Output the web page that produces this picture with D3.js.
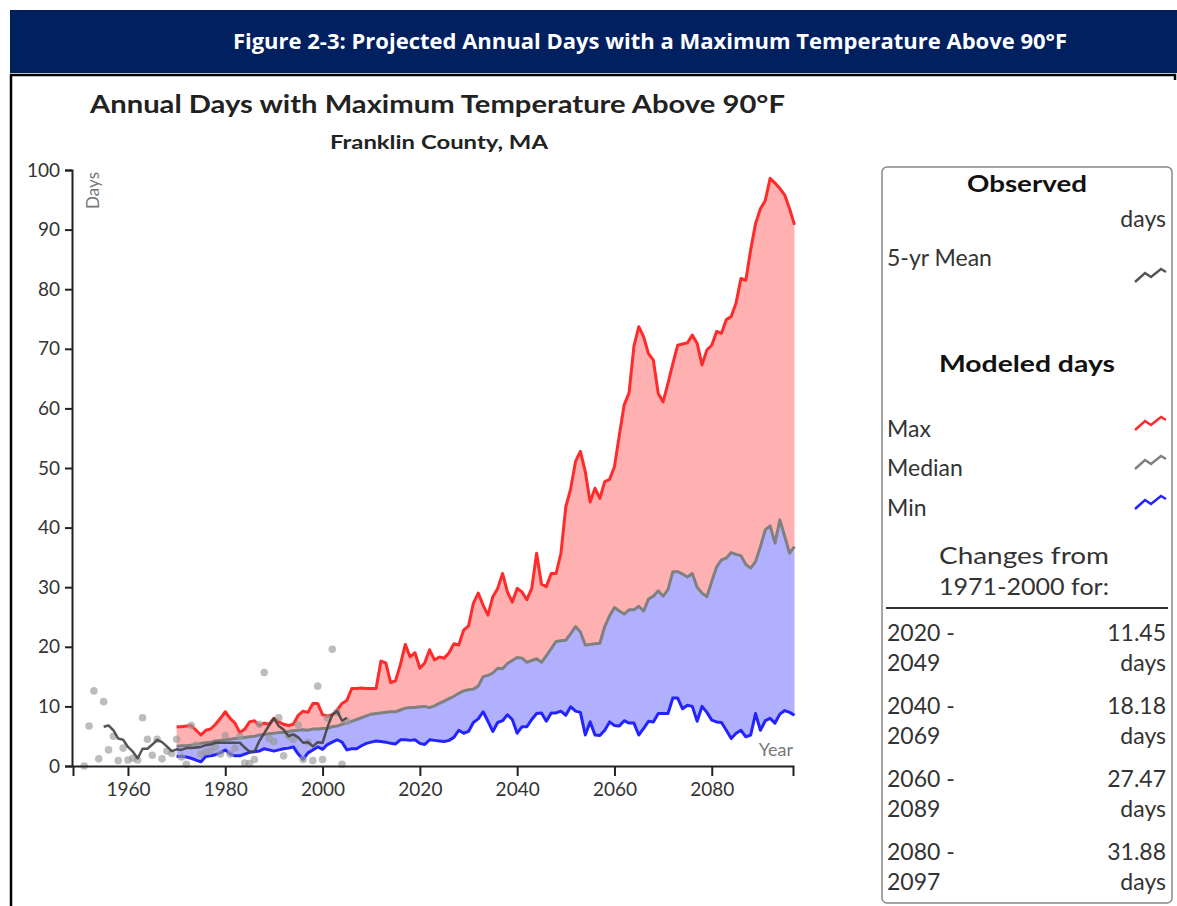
<!DOCTYPE html>
<html>
<head>
<meta charset="utf-8">
<script src="https://cdn.jsdelivr.net/npm/d3@7"></script>
<style>
  body { margin: 0; background: #fff; }
  text { font-family: "Lato", "Open Sans", sans-serif; }
</style>
</head>
<body>
<div id="chart"></div>
<script>
"use strict";

// observed annual days (dots) and the 5-yr running mean
var obsYears = d3.range(1951, 2006);
var obsDays = [0, 6.7, 12.6, 1.2, 10.8, 2.7, 5.0, 0.9, 3.0, 1.0,
  1.3, 1.0, 8.1, 4.5, 1.8, 4.5, 1.2, 2.5, 2.1, 4.5,
  1.5, 0.3, 6.8, 3.5, 2.0, 2.4, 2.6, 3.2, 2.0, 5.1,
  2.0, 3.0, 5.0, 0.5, 0.4, 1.1, 7.0, 15.7, 4.6, 4.1,
  8.1, 1.7, 5.0, 4.5, 6.9, 1.1, 4.0, 0.9, 13.4, 1.1,
  8.0, 19.6, 9.0, 0.3, 7.5];

var meanYears = d3.range(1955, 2006);
var meanDays = [6.6, 6.8, 6.0, 4.6, 4.4, 3.2, 2.4, 1.3, 2.9, 2.9,
  3.6, 4.4, 4.0, 3.3, 2.5, 2.8, 2.7, 3.0, 3.0, 3.1,
  3.2, 3.5, 3.6, 3.9, 3.9, 3.9, 3.9, 3.9, 3.9, 3.1,
  2.4, 2.4, 4.2, 5.5, 6.8, 8.0, 6.7, 6.1, 5.0, 5.3,
  4.8, 3.9, 4.0, 3.3, 4.0, 3.9, 6.5, 8.6, 9.2, 7.6, 8.1];

// modeled, 1970-2097
var modelYears = d3.range(1970, 2098);
var maxDays = [6.6, 6.6, 6.7, 6.8, 6.0, 5.2, 6.0, 6.2, 7.0, 8.0,
  9.1, 8.0, 7.2, 5.6, 6.2, 7.4, 7.6, 6.8, 7.2, 7.0,
  8.0, 7.4, 7.0, 6.8, 7.0, 8.5, 9.2, 9.0, 10.5, 10.5,
  8.6, 8.4, 8.6, 9.4, 10.5, 11.0, 13.0, 13.0, 13.1, 13.0,
  13.0, 13.0, 17.6, 17.3, 14.0, 14.3, 17.0, 20.4, 18.3, 19.0,
  16.4, 17.3, 19.5, 17.8, 18.3, 18.1, 19.0, 20.5, 20.3, 22.8,
  23.5, 27.3, 29.0, 27.0, 25.3, 28.4, 29.8, 32.3, 29.2, 27.5,
  29.8, 29.2, 27.9, 29.8, 35.7, 30.5, 30.1, 32.3, 32.3, 35.7,
  43.5, 46.5, 51.1, 52.8, 49.4, 44.3, 46.6, 44.9, 47.7, 48.1,
  50.2, 55.5, 60.6, 62.6, 70.4, 73.7, 72.0, 69.2, 68.1, 62.5,
  61.1, 64.2, 67.5, 70.6, 70.8, 71.0, 72.3, 70.9, 67.3, 69.8,
  70.6, 72.9, 72.6, 74.9, 75.4, 77.7, 81.8, 81.5, 86.6, 91.0,
  93.5, 94.9, 98.6, 97.8, 96.9, 95.8, 93.5, 90.8];
var medianDays = [3.3, 3.4, 3.4, 3.5, 3.6, 3.8, 3.9, 4.0, 4.2, 4.3,
  4.4, 4.5, 4.6, 4.7, 4.8, 4.9, 5.0, 5.2, 5.3, 5.4,
  5.5, 5.6, 5.6, 5.8, 5.9, 6.0, 6.1, 6.0, 6.2, 6.2,
  6.3, 6.3, 6.6, 6.7, 7.0, 7.2, 7.5, 7.8, 8.1, 8.4,
  8.7, 8.8, 8.9, 9.0, 9.1, 9.1, 9.4, 9.7, 9.8, 9.8,
  9.95, 10.0, 9.8, 10.1, 10.5, 10.9, 11.3, 11.7, 12.2, 12.6,
  12.8, 12.9, 13.4, 15.0, 15.2, 15.6, 16.4, 16.3, 17.2, 17.7,
  18.2, 18.1, 17.4, 17.7, 18.0, 17.4, 18.5, 19.7, 20.9, 21.0,
  21.1, 22.2, 23.4, 22.5, 20.3, 20.4, 20.5, 20.6, 23.4, 25.2,
  26.6, 26.0, 25.5, 26.2, 26.2, 26.8, 26.0, 28.0, 28.5, 29.4,
  28.5, 29.6, 32.6, 32.6, 32.2, 31.7, 32.3, 30.0, 29.0, 28.4,
  31.0, 33.4, 34.6, 34.9, 35.8, 35.5, 35.3, 33.8, 33.2, 34.3,
  36.8, 39.6, 40.3, 37.4, 41.3, 38.5, 35.7, 36.8];
var minDays = [1.6, 1.6, 1.5, 1.3, 1.0, 0.7, 1.6, 1.7, 1.9, 2.2,
  2.7, 2.0, 1.7, 1.7, 2.0, 2.3, 2.4, 2.5, 2.9, 2.7,
  2.5, 2.7, 2.9, 3.0, 3.2, 2.0, 1.1, 2.2, 2.7, 3.2,
  2.8, 3.6, 4.0, 4.4, 4.0, 2.7, 2.9, 2.9, 3.4, 3.8,
  4.0, 4.2, 4.1, 4.0, 3.8, 3.7, 4.4, 4.4, 4.3, 4.4,
  3.8, 3.6, 4.4, 4.3, 4.2, 4.1, 4.3, 4.8, 6.0, 5.5,
  5.8, 7.3, 7.9, 9.1, 7.5, 5.8, 7.3, 7.6, 8.6, 7.8,
  5.5, 6.6, 6.6, 7.8, 8.8, 8.9, 7.5, 8.9, 8.9, 9.2,
  8.5, 9.95, 9.2, 9.0, 5.2, 7.4, 5.2, 5.1, 6.0, 7.4,
  6.8, 6.7, 7.6, 7.2, 7.2, 5.2, 6.3, 7.5, 7.4, 8.8,
  8.8, 8.8, 11.4, 11.4, 9.6, 10.2, 10.0, 7.5, 10.0, 9.0,
  7.7, 7.4, 7.3, 6.0, 4.6, 5.5, 6.0, 4.9, 5.2, 8.8,
  6.0, 7.6, 8.0, 7.2, 8.7, 9.3, 9.0, 8.5];

var yTicks = [0, 10, 20, 30, 40, 50, 60, 70, 80, 90, 100];
var xTicks = [1960, 1980, 2000, 2020, 2040, 2060, 2080];

var changePeriods = [["2020 -", "2049"], ["2040 -", "2069"], ["2060 -", "2089"], ["2080 -", "2097"]];
var changeValues = ["11.45", "18.18", "27.47", "31.88"];

var W = 1177, H = 906;
var svg = d3.select("#chart").append("svg")
  .attr("width", W).attr("height", H);

// header band
svg.append("rect").attr("x", 10).attr("y", 10).attr("width", W - 10).attr("height", 63)
  .attr("fill", "#002060");
svg.append("text").attr("x", 650).attr("y", 49)
  .attr("text-anchor", "middle").attr("fill", "#fff")
  .style("font-family", "'Open Sans', sans-serif")
  .style("font-weight", "bold").style("font-size", "22px")
  .text("Figure 2-3: Projected Annual Days with a Maximum Temperature Above 90\u00B0F");

// frame under header
svg.append("path").attr("d", "M11,906 V75 H1175 V80")
  .attr("fill", "none").attr("stroke", "#000").attr("stroke-width", 2.5);

// chart titles
svg.append("text").attr("x", 90).attr("y", 113)
  .attr("textLength", 695).attr("lengthAdjust", "spacingAndGlyphs")
  .style("font-weight", "bold").style("font-size", "24px").attr("fill", "#222")
  .text("Annual Days with Maximum Temperature Above 90\u00B0F");
svg.append("text").attr("x", 330).attr("y", 149)
  .attr("textLength", 218).attr("lengthAdjust", "spacingAndGlyphs")
  .style("font-weight", "bold").style("font-size", "19px").attr("fill", "#222")
  .text("Franklin County, MA");

// scales
var x = d3.scaleLinear().domain([1948.7, 2096.7]).range([73, 793]);
var y = d3.scaleLinear().domain([0, 100]).range([766, 170]);

var g = svg.append("g");

var modeled = modelYears.map(function (yr, i) {
  return { year: yr, max: maxDays[i], med: medianDays[i], min: minDays[i] };
});

// fills
g.append("path").datum(modeled)
  .attr("fill", "#ffb0b0")
  .attr("d", d3.area().x(function (d) { return x(d.year); })
    .y0(function (d) { return y(d.med); }).y1(function (d) { return y(d.max); }));
g.append("path").datum(modeled)
  .attr("fill", "#b0b0ff")
  .attr("d", d3.area().x(function (d) { return x(d.year); })
    .y0(function (d) { return y(d.min); }).y1(function (d) { return y(d.med); }));

// modeled lines
var lines = [["max", "#ff2b2b"], ["med", "#808080"], ["min", "#2323ff"]];
lines.forEach(function (l) {
  g.append("path").datum(modeled)
    .attr("fill", "none").attr("stroke", l[1]).attr("stroke-width", 3)
    .attr("stroke-linejoin", "round")
    .attr("d", d3.line().x(function (d) { return x(d.year); })
      .y(function (d) { return y(d[l[0]]); }));
});

// observed dots
g.selectAll("circle.obs").data(obsYears).enter().append("circle")
  .attr("class", "obs")
  .attr("cx", function (d) { return x(d); })
  .attr("cy", function (d, i) { return y(obsDays[i]); })
  .attr("r", 3.8)
  .attr("fill", "#999").attr("fill-opacity", 0.65);

// 5-yr mean
g.append("path").datum(meanYears)
  .attr("fill", "none").attr("stroke", "#444").attr("stroke-opacity", 0.9)
  .attr("stroke-width", 2.5).attr("stroke-linejoin", "round")
  .attr("d", d3.line().x(function (d) { return x(d); })
    .y(function (d, i) { return y(meanDays[i]); }));

// axes
var yAxis = svg.append("g").attr("transform", "translate(72,0)")
  .call(d3.axisLeft(y).tickValues(yTicks).tickSize(7).tickPadding(5));
var xAxis = svg.append("g").attr("transform", "translate(0,766)")
  .call(d3.axisBottom(x).tickValues(xTicks).tickFormat(d3.format("d"))
    .tickSize(10).tickSizeOuter(10).tickPadding(7));
[yAxis, xAxis].forEach(function (a) {
  a.select(".domain").attr("stroke", "#222").attr("stroke-width", 2);
  a.selectAll(".tick line").attr("stroke", "#222").attr("stroke-width", 2);
  a.selectAll(".tick text").attr("fill", "#333")
    .style("font-family", "Lato, sans-serif").style("font-size", "19px");
});

svg.append("text").attr("transform", "translate(99,172) rotate(-90)")
  .attr("text-anchor", "end").attr("fill", "#777").style("font-size", "17px")
  .text("Days");
svg.append("text").attr("x", 793).attr("y", 756).attr("text-anchor", "end")
  .attr("fill", "#777").style("font-size", "18px").text("Year");

// legend box
var lg = svg.append("g");
lg.append("rect").attr("x", 882).attr("y", 167).attr("width", 290).attr("height", 736)
  .attr("rx", 5).attr("fill", "#fff").attr("stroke", "#888").attr("stroke-width", 1.5);

function ltext(xp, yp, txt, anchor, bold) {
  return lg.append("text").attr("x", xp).attr("y", yp).attr("text-anchor", anchor || "start")
    .attr("fill", bold ? "#111" : "#333")
    .style("font-weight", bold ? "bold" : "normal").style("font-size", "23px").text(txt);
}
function icon(yp, color) {
  lg.append("path").attr("d", "M1135," + (yp + 12) + " l10,-9 l6,4 l10,-8 l5,3")
    .attr("fill", "none").attr("stroke", color).attr("stroke-width", 2.5);
}

ltext(1027, 192, "Observed", "middle", true)
  .attr("textLength", 120).attr("lengthAdjust", "spacingAndGlyphs");
ltext(1166, 227, "days", "end");
ltext(887, 266, "5-yr Mean");
icon(270, "#555");
ltext(1027, 372, "Modeled days", "middle", true)
  .attr("textLength", 176).attr("lengthAdjust", "spacingAndGlyphs");
ltext(887, 437, "Max");
icon(418, "#ff2b2b");
ltext(887, 476, "Median");
icon(457, "#808080");
ltext(887, 516, "Min");
icon(497, "#2323ff");
ltext(1024, 564, "Changes from", "middle")
  .attr("textLength", 170).attr("lengthAdjust", "spacingAndGlyphs");
ltext(1024, 595, "1971-2000 for:", "middle")
  .attr("textLength", 170).attr("lengthAdjust", "spacingAndGlyphs");
lg.append("line").attr("x1", 886).attr("x2", 1168).attr("y1", 608).attr("y2", 608)
  .attr("stroke", "#333").attr("stroke-width", 2);

changePeriods.forEach(function (p, i) {
  var y0 = 641 + i * 73;
  ltext(887, y0, p[0]);
  ltext(887, y0 + 30, p[1]);
  ltext(1166, y0, changeValues[i], "end");
  ltext(1166, y0 + 30, "days", "end");
});
</script>
</body>
</html>
